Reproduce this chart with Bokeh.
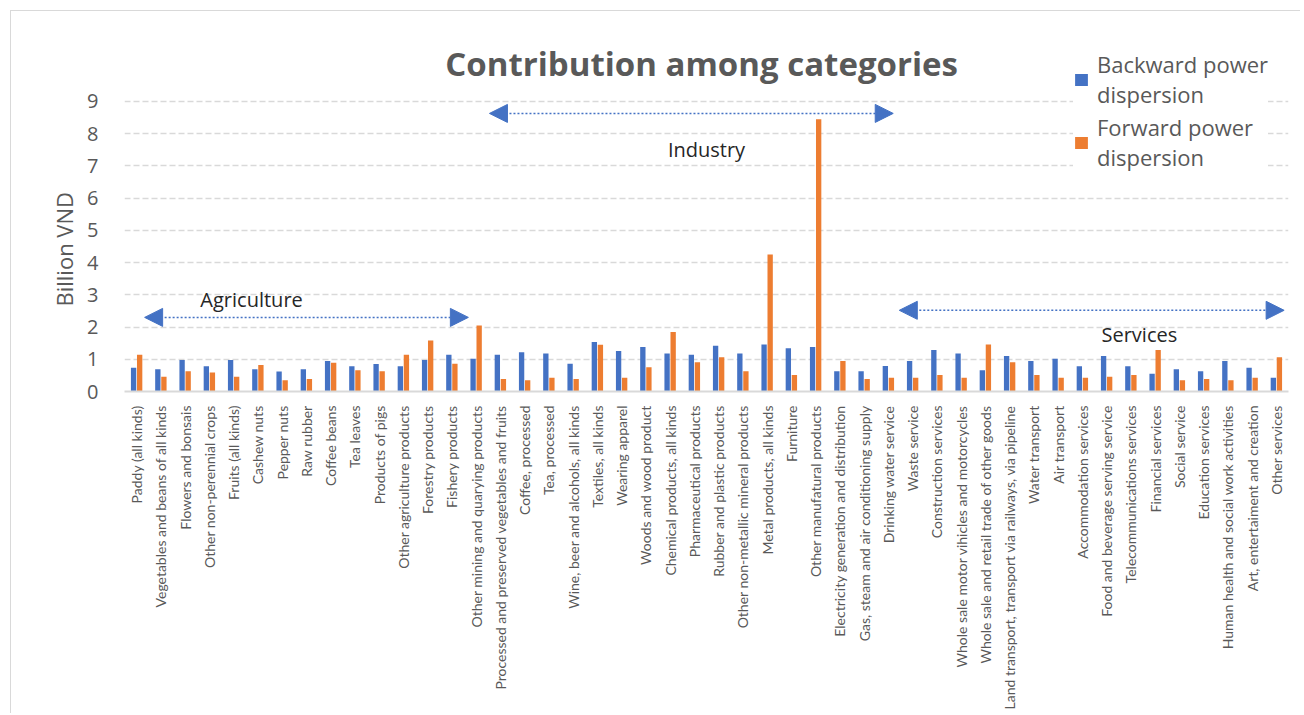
from bokeh.plotting import figure
from bokeh.models import (ColumnDataSource, FactorRange, Range1d, FixedTicker, Legend, LegendItem,
                          Label, Arrow, NormalHead, Title)
from bokeh.transform import dodge
from bokeh.embed import file_html
from bokeh.resources import INLINE
import math

categories = [
    "Paddy (all kinds)", "Vegetables and beans of all kinds", "Flowers and bonsais",
    "Other non-perennial crops", "Fruits (all kinds)", "Cashew nuts", "Pepper nuts", "Raw rubber",
    "Coffee beans", "Tea leaves", "Products of pigs", "Other agriculture products",
    "Forestry products", "Fishery products", "Other mining and quarying products",
    "Processed and preserved vegetables and fruits", "Coffee, processed", "Tea, processed",
    "Wine, beer and alcohols, all kinds", "Textiles, all kinds", "Wearing apparel",
    "Woods and wood product", "Chemical products, all kinds", "Pharmaceutical products",
    "Rubber and plastic products", "Other non-metallic mineral products",
    "Metal products, all kinds", "Furniture", "Other manufatural products",
    "Electricity generation and distribution", "Gas, steam and air conditioning supply",
    "Drinking water service", "Waste service", "Construction services",
    "Whole sale motor vihicles and motorcycles", "Whole sale and retail trade of other goods",
    "Land transport, transport via railways, via pipeline", "Water transport", "Air transport",
    "Accommodation services", "Food and beverage serving service", "Telecommunications services",
    "Financial services", "Social service", "Education services",
    "Human health and social work activities", "Art, entertaiment and creation", "Other services",
]

backward = [0.74, 0.69, 0.98, 0.78, 0.98, 0.69, 0.62, 0.69, 0.95, 0.78, 0.85, 0.78,
            0.98, 1.14, 1.02, 1.14, 1.22, 1.18, 0.86, 1.54, 1.26, 1.38, 1.18, 1.14,
            1.42, 1.18, 1.46, 1.34, 1.38, 0.63, 0.63, 0.79, 0.95, 1.29, 1.18, 0.66,
            1.10, 0.95, 1.02, 0.78, 1.10, 0.78, 0.55, 0.69, 0.63, 0.95, 0.74, 0.43]
forward = [1.14, 0.46, 0.63, 0.59, 0.46, 0.82, 0.35, 0.39, 0.89, 0.66, 0.63, 1.14,
           1.58, 0.86, 2.05, 0.39, 0.35, 0.43, 0.39, 1.45, 0.43, 0.75, 1.85, 0.91,
           1.06, 0.63, 4.25, 0.51, 8.45, 0.95, 0.39, 0.43, 0.43, 0.51, 0.43, 1.46,
           0.91, 0.51, 0.43, 0.43, 0.46, 0.51, 1.29, 0.35, 0.39, 0.35, 0.43, 1.06]

y_ticks = [0, 1, 2, 3, 4, 5, 6, 7, 8, 9]
series_names = ["Backward power\ndispersion", "Forward power\ndispersion"]
title_text = "Contribution among categories"
y_label = "Billion VND"

BLUE = "#4472C4"
ORANGE = "#ED7D31"
GRAY = "#595959"
GRID = "#D9D9D9"

src = ColumnDataSource(dict(cat=categories, backward=backward, forward=forward))

# y range extends above 9 so the title and legend sit inside the frame
p = figure(x_range=FactorRange(*categories, range_padding=0), y_range=Range1d(0, 10.862),
           width=1290, height=703, output_backend="svg", toolbar_location=None,
           min_border_top=30, min_border_left=113, min_border_right=13, min_border_bottom=323)
p.margin = (10, 0, 0, 10)
p.styles = {"border-left": "1px solid #D9D9D9", "border-top": "1px solid #D9D9D9"}
p.outline_line_color = None
p.background_fill_color = "white"
p.border_fill_color = "white"

rb = p.vbar(x=dodge("cat", -0.125, range=p.x_range), top="backward", width=0.22, source=src,
            fill_color=BLUE, line_color=None)
rf = p.vbar(x=dodge("cat", 0.125, range=p.x_range), top="forward", width=0.22, source=src,
            fill_color=ORANGE, line_color=None)

# axes
p.xgrid.grid_line_color = None
p.ygrid.grid_line_color = GRID
p.ygrid.grid_line_dash = "6 3"
p.ygrid.grid_line_width = 1.5
p.yaxis.ticker = FixedTicker(ticks=y_ticks)
p.yaxis.axis_line_color = None
p.yaxis.major_tick_line_color = None
p.yaxis.minor_tick_line_color = None
p.yaxis.major_label_text_font = "Open Sans"
p.yaxis.major_label_text_font_size = "20px"
p.yaxis.major_label_text_color = GRAY
p.yaxis.major_label_standoff = 20

# y-axis title, placed beside the 0-9 tick span
p.add_layout(Title(text=y_label, align="left", offset=85, standoff=12,
                   text_font="Open Sans", text_font_style="normal", text_font_size="22px",
                   text_color=GRAY), "left")

p.xaxis.axis_line_color = GRID
p.xaxis.axis_line_width = 2
p.xaxis.major_tick_line_color = None
p.xaxis.minor_tick_line_color = None
p.xaxis.major_label_orientation = math.pi / 2
p.xaxis.major_label_text_font = "Lato"
p.xaxis.major_label_text_font_size = "14px"
p.xaxis.major_label_text_color = GRAY
p.xaxis.major_label_standoff = 8

# title
p.add_layout(Label(x=23.8, y=10.18, text=title_text, text_align="center", text_baseline="middle",
                   text_font="Open Sans", text_font_style="bold", text_font_size="33px",
                   text_color=GRAY))

# legend
legend = Legend(items=[LegendItem(label=series_names[0], renderers=[rb]),
                       LegendItem(label=series_names[1], renderers=[rf])],
                location=(949, 219), orientation="vertical",
                label_text_font="Open Sans", label_text_font_size="22px",
                label_text_color=GRAY, label_text_line_height=1.2,
                glyph_width=16, glyph_height=15, label_standoff=8, spacing=3,
                padding=12, margin=0, border_line_color=None,
                background_fill_color="white", background_fill_alpha=1.0)
p.add_layout(legend, "center")

# sector annotations
def sector_arrow(x0, x1, y):
    p.add_layout(Arrow(x_start=x0, y_start=y, x_end=x1, y_end=y,
                       line_color=BLUE, line_width=1.5, line_dash="2 2",
                       start=NormalHead(size=18, fill_color=BLUE, line_color=BLUE),
                       end=NormalHead(size=18, fill_color=BLUE, line_color=BLUE)))

sector_arrow(0.83, 14.18, 2.3)
sector_arrow(15.05, 31.7, 8.63)
sector_arrow(31.95, 47.82, 2.52)

for tx, ty, t in [(5.24, 2.86, "Agriculture"), (24.0, 7.5, "Industry"), (41.85, 1.77, "Services")]:
    p.add_layout(Label(x=tx, y=ty, text=t, text_align="center", text_baseline="middle",
                       text_font="Open Sans", text_font_size="20px", text_color="#262626"))

open("out.html", "w").write(file_html(p, INLINE))
